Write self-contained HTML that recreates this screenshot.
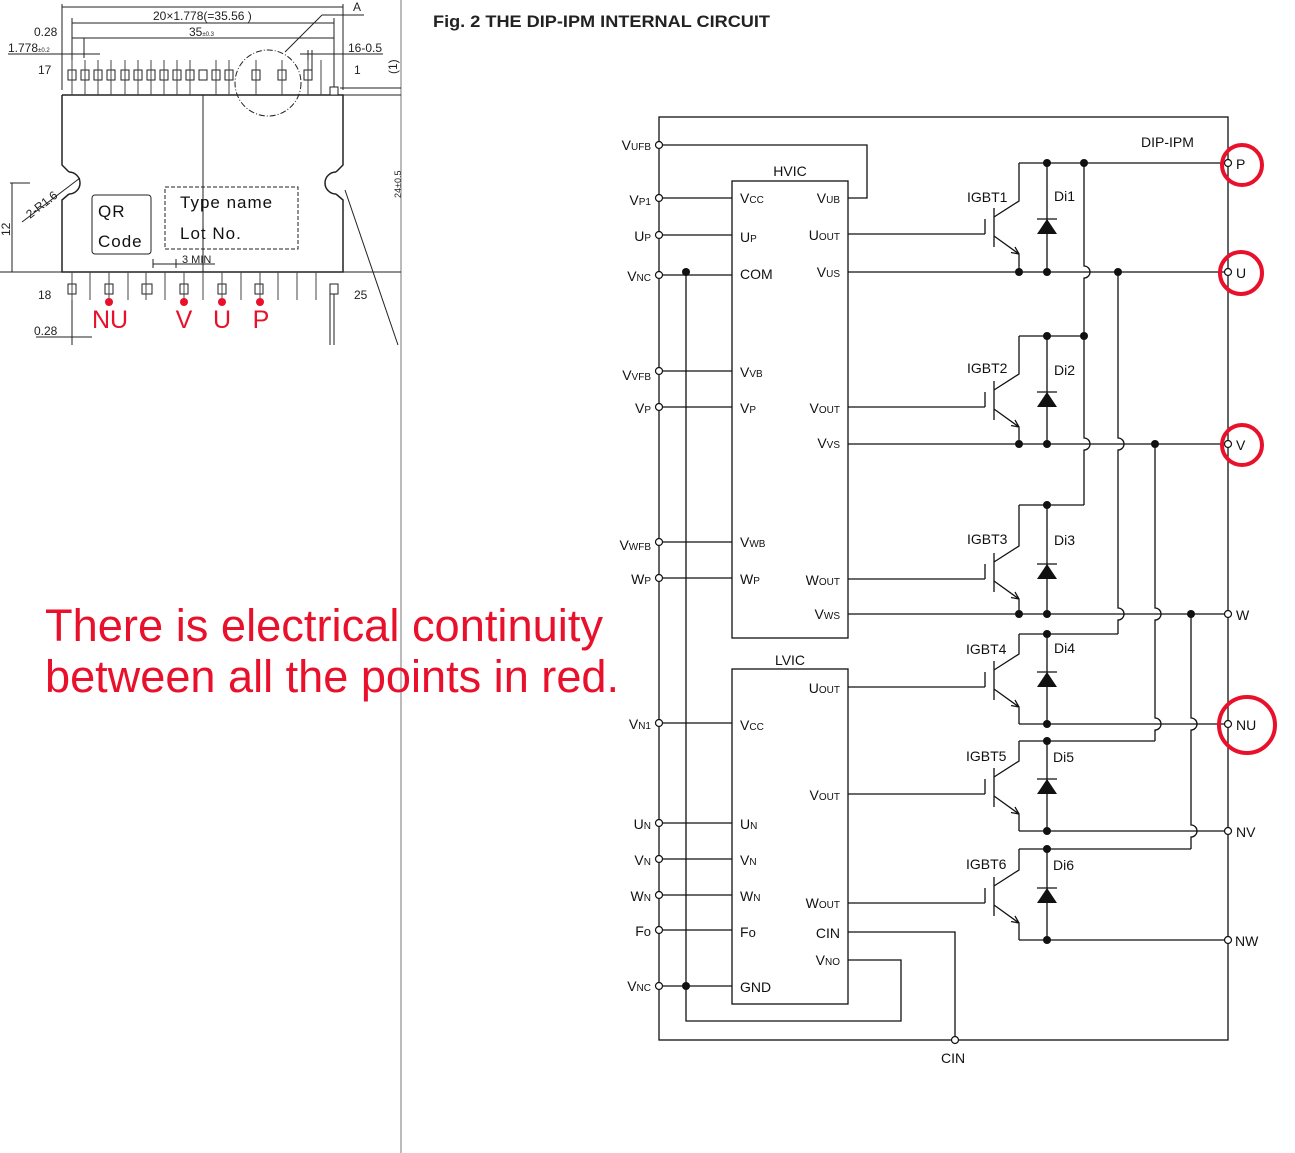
<!DOCTYPE html>
<html><head><meta charset="utf-8"><style>
html,body{margin:0;padding:0;background:#fff}
svg{display:block}
text{font-family:"Liberation Sans",Arial,sans-serif}
</style></head><body>
<svg width="1295" height="1153" viewBox="0 0 1295 1153" xmlns="http://www.w3.org/2000/svg">
<rect width="1295" height="1153" fill="#fff"/>
<!-- package drawing -->
<g stroke="#222" stroke-width="1" fill="none">
<line x1="401" y1="0" x2="401" y2="1153" stroke="#777"/>
<line x1="62" y1="7" x2="343" y2="7"/><line x1="62" y1="4" x2="62" y2="90"/><line x1="343" y1="4" x2="343" y2="90"/>
<line x1="72" y1="23" x2="334" y2="23"/><line x1="72" y1="38" x2="334" y2="38"/>
<line x1="72" y1="18" x2="72" y2="95"/><line x1="334" y1="18" x2="334" y2="95"/>
<line x1="8" y1="54" x2="100" y2="54"/><line x1="84" y1="38" x2="84" y2="58"/>
<line x1="300" y1="54" x2="383" y2="54"/><line x1="308" y1="50" x2="308" y2="75"/><line x1="312" y1="50" x2="312" y2="75"/>
<line x1="285" y1="52" x2="322" y2="15"/><line x1="322" y1="15" x2="364" y2="15"/>
<line x1="340" y1="88" x2="401" y2="88"/><line x1="343" y1="95" x2="401" y2="95"/>
<path d="M62 95 H343 V165 L336 172 M336 194 L343 200 V272 H62 V200 L69 194 M69 172 L62 165 V95" stroke-width="1.5"/>
<path d="M69 172 A11 11 0 0 1 69 194" stroke-width="1.5"/>
<path d="M336 172 A11 11 0 0 0 336 194" stroke-width="1.5"/>
<circle cx="268" cy="83" r="33" stroke-dasharray="6 2 1 2"/>
<line x1="203" y1="95" x2="203" y2="290"/>
<line x1="10" y1="183" x2="30" y2="183"/><line x1="12" y1="183" x2="12" y2="272"/>
<line x1="22" y1="222" x2="80" y2="178"/>
<line x1="345" y1="190" x2="398" y2="345"/>
<rect x="92" y="195" width="59" height="59" rx="3"/>
<rect x="165" y="187" width="133" height="62" stroke-dasharray="4 2"/>
<line x1="153" y1="264" x2="215" y2="264"/><line x1="153" y1="259" x2="153" y2="268"/><line x1="176" y1="259" x2="176" y2="268"/>
<line x1="0" y1="272" x2="401" y2="272"/>
<line x1="36" y1="337" x2="92" y2="337"/>
<line x1="334" y1="290" x2="334" y2="345"/><line x1="330" y1="290" x2="330" y2="345"/>
<line x1="72" y1="290" x2="72" y2="345"/>
</g>
<g stroke="#222" stroke-width="1" fill="#fff">
<rect x="68" y="70" width="8" height="10"/><rect x="81" y="70" width="8" height="10"/><rect x="94" y="70" width="8" height="10"/><rect x="107" y="70" width="8" height="10"/><rect x="121" y="70" width="8" height="10"/><rect x="134" y="70" width="8" height="10"/><rect x="147" y="70" width="8" height="10"/><rect x="160" y="70" width="8" height="10"/><rect x="173" y="70" width="8" height="10"/><rect x="186" y="70" width="8" height="10"/><rect x="199" y="70" width="8" height="10"/><rect x="212" y="70" width="8" height="10"/><rect x="225" y="70" width="8" height="10"/><rect x="252" y="70" width="8" height="10"/><rect x="278" y="70" width="8" height="10"/><rect x="304" y="70" width="8" height="10"/><rect x="330" y="87" width="8" height="8"/>
<rect x="68" y="284" width="8" height="10"/><rect x="105" y="284" width="8" height="10"/><rect x="142" y="284" width="10" height="10"/><rect x="180" y="284" width="8" height="10"/><rect x="218" y="284" width="8" height="10"/><rect x="255" y="284" width="8" height="10"/><rect x="330" y="284" width="8" height="10"/>
</g>
<g stroke="#444" stroke-width="1">
<path d="M72 60V95M85 60V95M98 60V95M111 60V95M125 60V95M138 60V95M151 60V95M164 60V95M177 60V95M190 60V95M216 60V95M229 60V95M256 60V95M282 60V95M308 60V95M321 60V95"/>
<path d="M72 272V300M90 272V300M109 272V298M128 272V300M146 272V300M165 272V300M184 272V298M203 272V300M222 272V298M241 272V300M260 272V298M278 272V300M297 272V300M316 272V300"/>
</g>
<g font-size="12" fill="#222">
<text x="153" y="20">20×1.778(=35.56 )</text>
<text x="189" y="36">35<tspan font-size="6">±0.3</tspan></text>
<text x="34" y="36">0.28</text>
<text x="8" y="52">1.778<tspan font-size="6">±0.2</tspan></text>
<text x="348" y="52">16-0.5</text>
<text x="353" y="11">A</text>
<text x="38" y="74">17</text><text x="354" y="74">1</text>
<text x="38" y="299">18</text><text x="354" y="299">25</text>
<text x="34" y="335">0.28</text>
<text x="182" y="263" font-size="11">3 MIN</text>
<text x="30" y="219" transform="rotate(-38 30 219)">2-R1.6</text>
<text x="10" y="236" transform="rotate(-90 10 236)">12</text>
<text x="397" y="74" transform="rotate(-90 397 74)">(1)</text>
<text x="401" y="198" transform="rotate(-90 401 198)" font-size="9">24±0.5</text>
</g>
<g font-size="17" fill="#111" letter-spacing="1">
<text x="98" y="217">QR</text><text x="98" y="247">Code</text>
<text x="180" y="208">Type name</text><text x="180" y="239">Lot No.</text>
</g>
<g fill="#e8102a"><circle cx="109" cy="302" r="4"/><circle cx="184" cy="302" r="4"/><circle cx="222" cy="302" r="4"/><circle cx="260" cy="302" r="4"/></g>
<g fill="#e8102a" font-size="25" text-anchor="middle">
<text x="110" y="328">NU</text><text x="184" y="328">V</text><text x="222" y="328">U</text><text x="261" y="328">P</text>
</g>
<text x="45" y="641" font-size="45" fill="#e8102a" textLength="558" lengthAdjust="spacingAndGlyphs">There is electrical continuity</text>
<text x="45" y="692" font-size="45" fill="#e8102a" textLength="574" lengthAdjust="spacingAndGlyphs">between all the points in red.</text>

<text x="433" y="27" font-size="17" font-weight="bold" fill="#222" textLength="337" lengthAdjust="spacingAndGlyphs">Fig. 2 THE DIP-IPM INTERNAL CIRCUIT</text>

<!-- circuit -->
<g stroke="#111" stroke-width="1.3" fill="none">
<rect x="659" y="117" width="569" height="923"/>
<rect x="732" y="181" width="116" height="457"/>
<rect x="732" y="669" width="116" height="335"/>
<path d="M659 145H867V198H848M659 198H732M659 235H732M659 275H732M659 371H732M659 407H732M659 542H732M659 578H732M659 723H732M659 823H732M659 859H732M659 895H732M659 930H732M659 986H732"/>
<path d="M686 272V1021H901V960H848M848 932H955V1040"/>
<path d="M1019 163H1228M848 272H1228M848 444H1228M848 614H1228M1019 724H1228M1019 831H1228M1019 940H1228"/>
<path d="M1019 336H1084M1019 505H1084M1019 634H1118M1019 741H1155M1019 849H1191"/>
<path d="M1084 163V266A6 6 0 0 1 1084 278V438A6 6 0 0 1 1084 450V505"/>
<path d="M1118 272V438A6 6 0 0 1 1118 450V608A6 6 0 0 1 1118 620V634"/>
<path d="M1155 444V608A6 6 0 0 1 1155 620V718A6 6 0 0 1 1155 730V741"/>
<path d="M1191 614V718A6 6 0 0 1 1191 730V825A6 6 0 0 1 1191 837V849"/>
<path d="M1019 163V201L994 217M994 208V247M985 219V234M848 234H985M994 236L1019 254V272M1019 254L1011 252.5M1019 254L1015 247M1047 163V272M1037 219H1057"/>
<path d="M1019 336V374L994 390M994 381V420M985 392V407M848 407H985M994 409L1019 427V444M1019 427L1011 425.5M1019 427L1015 420M1047 336V444M1037 392H1057"/>
<path d="M1019 505V546L994 562M994 553V592M985 564V579M848 579H985M994 581L1019 599V614M1019 599L1011 597.5M1019 599L1015 592M1047 505V614M1037 564H1057"/>
<path d="M1019 634V654L994 670M994 661V700M985 672V687M848 687H985M994 689L1019 707V724M1019 707L1011 705.5M1019 707L1015 700M1047 634V724M1037 672H1057"/>
<path d="M1019 741V761L994 777M994 768V807M985 779V794M848 794H985M994 796L1019 814V831M1019 814L1011 812.5M1019 814L1015 807M1047 741V831M1037 779H1057"/>
<path d="M1019 849V870L994 886M994 877V916M985 888V903M848 903H985M994 905L1019 923V940M1019 923L1011 921.5M1019 923L1015 916M1047 849V940M1037 888H1057"/>
</g>
<g fill="#111">
<polygon points="1037,234 1057,234 1047,219"/><polygon points="1037,407 1057,407 1047,392"/><polygon points="1037,579 1057,579 1047,564"/><polygon points="1037,687 1057,687 1047,672"/><polygon points="1037,794 1057,794 1047,779"/><polygon points="1037,903 1057,903 1047,888"/>
<circle cx="1047" cy="163" r="4"/><circle cx="1084" cy="163" r="4"/><circle cx="1019" cy="272" r="4"/><circle cx="1047" cy="272" r="4"/><circle cx="1118" cy="272" r="4"/>
<circle cx="1047" cy="336" r="4"/><circle cx="1084" cy="336" r="4"/><circle cx="1019" cy="444" r="4"/><circle cx="1047" cy="444" r="4"/><circle cx="1155" cy="444" r="4"/>
<circle cx="1047" cy="505" r="4"/><circle cx="1019" cy="614" r="4"/><circle cx="1047" cy="614" r="4"/><circle cx="1191" cy="614" r="4"/>
<circle cx="1047" cy="634" r="4"/><circle cx="1047" cy="724" r="4"/><circle cx="1047" cy="741" r="4"/><circle cx="1047" cy="831" r="4"/><circle cx="1047" cy="849" r="4"/><circle cx="1047" cy="940" r="4"/>
<circle cx="686" cy="272" r="4"/><circle cx="686" cy="986" r="4"/>
</g>
<g fill="#fff" stroke="#111" stroke-width="1.2">
<circle cx="659" cy="145" r="3.5"/><circle cx="659" cy="198" r="3.5"/><circle cx="659" cy="235" r="3.5"/><circle cx="659" cy="275" r="3.5"/><circle cx="659" cy="371" r="3.5"/><circle cx="659" cy="407" r="3.5"/><circle cx="659" cy="542" r="3.5"/><circle cx="659" cy="578" r="3.5"/><circle cx="659" cy="723" r="3.5"/><circle cx="659" cy="823" r="3.5"/><circle cx="659" cy="859" r="3.5"/><circle cx="659" cy="895" r="3.5"/><circle cx="659" cy="930" r="3.5"/><circle cx="659" cy="986" r="3.5"/>
<circle cx="1228" cy="163" r="3.5"/><circle cx="1228" cy="272" r="3.5"/><circle cx="1228" cy="444" r="3.5"/><circle cx="1228" cy="614" r="3.5"/><circle cx="1228" cy="724" r="3.5"/><circle cx="1228" cy="831" r="3.5"/><circle cx="1228" cy="940" r="3.5"/><circle cx="955" cy="1040" r="3.5"/>
</g>
<g fill="none" stroke="#e8102a" stroke-width="4">
<circle cx="1242" cy="165" r="20"/><circle cx="1241" cy="273" r="21"/><circle cx="1242" cy="445" r="20"/><circle cx="1247" cy="725" r="28"/>
</g>
<g font-size="14" fill="#111">
<g text-anchor="end">
<text x="651" y="150">V<tspan font-size="10">UFB</tspan></text>
<text x="651" y="205">V<tspan font-size="10">P1</tspan></text>
<text x="651" y="241">U<tspan font-size="10">P</tspan></text>
<text x="651" y="281">V<tspan font-size="10">NC</tspan></text>
<text x="651" y="380">V<tspan font-size="10">VFB</tspan></text>
<text x="651" y="413">V<tspan font-size="10">P</tspan></text>
<text x="651" y="550">V<tspan font-size="10">WFB</tspan></text>
<text x="651" y="584">W<tspan font-size="10">P</tspan></text>
<text x="651" y="729">V<tspan font-size="10">N1</tspan></text>
<text x="651" y="829">U<tspan font-size="10">N</tspan></text>
<text x="651" y="865">V<tspan font-size="10">N</tspan></text>
<text x="651" y="901">W<tspan font-size="10">N</tspan></text>
<text x="651" y="936">F<tspan font-size="13">o</tspan></text>
<text x="651" y="991">V<tspan font-size="10">NC</tspan></text>
<text x="840" y="203">V<tspan font-size="10">UB</tspan></text>
<text x="840" y="240">U<tspan font-size="10">OUT</tspan></text>
<text x="840" y="277">V<tspan font-size="10">US</tspan></text>
<text x="840" y="413">V<tspan font-size="10">OUT</tspan></text>
<text x="840" y="448">V<tspan font-size="10">VS</tspan></text>
<text x="840" y="585">W<tspan font-size="10">OUT</tspan></text>
<text x="840" y="619">V<tspan font-size="10">WS</tspan></text>
<text x="840" y="693">U<tspan font-size="10">OUT</tspan></text>
<text x="840" y="800">V<tspan font-size="10">OUT</tspan></text>
<text x="840" y="908">W<tspan font-size="10">OUT</tspan></text>
<text x="840" y="938">CIN</text>
<text x="840" y="965">V<tspan font-size="10">NO</tspan></text>
</g>
<text x="740" y="203">V<tspan font-size="10">CC</tspan></text>
<text x="740" y="242">U<tspan font-size="10">P</tspan></text>
<text x="740" y="279">COM</text>
<text x="740" y="377">V<tspan font-size="10">VB</tspan></text>
<text x="740" y="413">V<tspan font-size="10">P</tspan></text>
<text x="740" y="547">V<tspan font-size="10">WB</tspan></text>
<text x="740" y="584">W<tspan font-size="10">P</tspan></text>
<text x="740" y="730">V<tspan font-size="10">CC</tspan></text>
<text x="740" y="829">U<tspan font-size="10">N</tspan></text>
<text x="740" y="865">V<tspan font-size="10">N</tspan></text>
<text x="740" y="901">W<tspan font-size="10">N</tspan></text>
<text x="740" y="937">F<tspan font-size="13">o</tspan></text>
<text x="740" y="992">GND</text>
<text x="790" y="176" text-anchor="middle">HVIC</text>
<text x="790" y="665" text-anchor="middle">LVIC</text>
<text x="1141" y="147">DIP-IPM</text>
<text x="967" y="202">IGBT1</text><text x="1054" y="201">Di1</text>
<text x="967" y="373">IGBT2</text><text x="1054" y="375">Di2</text>
<text x="967" y="544">IGBT3</text><text x="1054" y="545">Di3</text>
<text x="966" y="654">IGBT4</text><text x="1054" y="653">Di4</text>
<text x="966" y="761">IGBT5</text><text x="1053" y="762">Di5</text>
<text x="966" y="869">IGBT6</text><text x="1053" y="870">Di6</text>
<text x="1236" y="169">P</text><text x="1236" y="278">U</text><text x="1236" y="450">V</text><text x="1236" y="620">W</text>
<text x="1236" y="730">NU</text><text x="1236" y="837">NV</text><text x="1235" y="946">NW</text>
<text x="941" y="1063">CIN</text>
</g>
</svg>
</body></html>
